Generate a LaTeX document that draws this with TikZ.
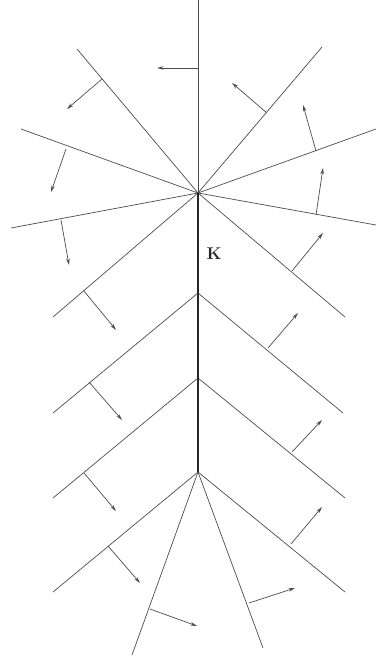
\documentclass[tikz,border=0pt]{standalone}
\usetikzlibrary{arrows.meta}
\begin{document}
\begin{tikzpicture}[x=1pt,y=-1pt,
  edge/.style={draw=black!70,line width=0.7pt},
  spine/.style={draw=black!85,line width=1.8pt},
  normal/.style={draw=black!70,line width=0.7pt,-{Stealth[length=6.5pt,width=3.5pt]}}]
\useasboundingbox (0,0) rectangle (378,660);
% junctions
\coordinate (A) at (198,193);
\coordinate (B) at (198,293);
\coordinate (C) at (198,378);
\coordinate (D) at (198,472);
% outer ends
\coordinate (top) at (198,0);
\coordinate (tl) at (77,49);
\coordinate (tr) at (322,47);
\coordinate (l1) at (21,129);
\coordinate (r1) at (376,129);
\coordinate (l2) at (11,228);
\coordinate (r2) at (376,225);
\coordinate (al) at (53,317);
\coordinate (ar) at (345,317);
\coordinate (bl) at (53,413);
\coordinate (br) at (343,413);
\coordinate (cl) at (53,498);
\coordinate (cr) at (345,498);
\coordinate (dl) at (53,592);
\coordinate (dr) at (345,592);
\coordinate (dbl) at (132,655);
\coordinate (dbr) at (263,648);
% edges
\foreach \e in {top,tl,tr,l1,r1,l2,r2,al,ar} \draw[edge] (A) -- (\e);
\foreach \e in {bl,br} \draw[edge] (B) -- (\e);
\foreach \e in {cl,cr} \draw[edge] (C) -- (\e);
\foreach \e in {dl,dr,dbl,dbr} \draw[edge] (D) -- (\e);
\draw[spine] (A) -- (B) -- (C) -- (D);
\node[font=\fontsize{17}{20}\selectfont\bfseries,text=black!85] (K) at (214,254) {K};
% normal arrows (base on edge, free tip)
\coordinate (n1a) at (198,68);  \coordinate (n1b) at (157,68);
\coordinate (n2a) at (102,79);  \coordinate (n2b) at (67,109);
\coordinate (n3a) at (267,113); \coordinate (n3b) at (232,83);
\coordinate (n4a) at (66,149);  \coordinate (n4b) at (51,192);
\coordinate (n5a) at (316,151); \coordinate (n5b) at (303,105);
\coordinate (n6a) at (316,215); \coordinate (n6b) at (323,168);
\coordinate (n7a) at (61,220);  \coordinate (n7b) at (69,265);
\coordinate (n8a) at (84,291);  \coordinate (n8b) at (116,330);
\coordinate (n9a) at (292,271); \coordinate (n9b) at (323,233);
\coordinate (n10a) at (89,382); \coordinate (n10b) at (122,420);
\coordinate (n11a) at (268,348); \coordinate (n11b) at (298,313);
\coordinate (n12a) at (84,473); \coordinate (n12b) at (116,511);
\coordinate (n13a) at (292,452); \coordinate (n13b) at (322,420);
\coordinate (n14a) at (108,546); \coordinate (n14b) at (140,583);
\coordinate (n15a) at (291,544); \coordinate (n15b) at (322,507);
\coordinate (n16a) at (150,609); \coordinate (n16b) at (197,626);
\coordinate (n17a) at (249,603); \coordinate (n17b) at (295,588);
\foreach \i in {1,...,17} \draw[normal] (n\i a) -- (n\i b);
\end{tikzpicture}
\end{document}
